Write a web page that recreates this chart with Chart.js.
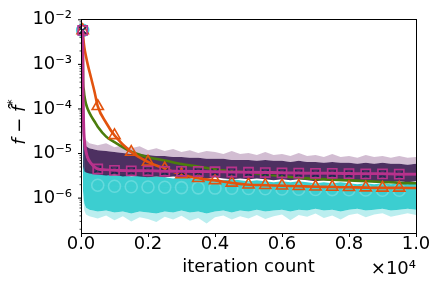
<!DOCTYPE html>
<html>
<head>
<meta charset="utf-8">
<script src="https://cdn.jsdelivr.net/npm/chart.js@4.4.1/dist/chart.umd.min.js"></script>
<style>
  html, body { margin: 0; padding: 0; background: #fff; }
</style>
</head>
<body>
<canvas id="myChart" width="436" height="284"></canvas>
<script>
// iterations where the mean curves were logged
const lineIter = [50, 60, 80, 100, 150, 200, 300, 400, 500, 750, 1000, 1500, 2000, 2500, 3000, 3500, 4000, 4500, 5000, 5500, 6000, 6500, 7000, 7500, 8000, 8500, 9000, 9500, 10000];

const orangeVals = [5.8e-3, 4.5e-3, 3.2e-3, 2.4e-3, 1.5e-3, 1.0e-3, 5.0e-4, 2.5e-4, 1.15e-4, 4.9e-5, 2.55e-5, 1.08e-5, 6.5e-6, 4.6e-6, 3.4e-6, 2.8e-6, 2.5e-6, 2.2e-6, 2.0e-6, 1.95e-6, 1.9e-6, 1.85e-6, 1.8e-6, 1.78e-6, 1.75e-6, 1.72e-6, 1.7e-6, 1.7e-6, 1.68e-6];
const greenVals = [5.8e-3, 4.3e-4, 2.8e-4, 2.0e-4, 1.3e-4, 1.0e-4, 7.0e-5, 5.3e-5, 4.0e-5, 2.4e-5, 1.8e-5, 1.1e-5, 8.3e-6, 7.0e-6, 5.8e-6, 5.1e-6, 4.4e-6, 4.0e-6, 3.7e-6, 3.4e-6, 3.1e-6, 2.85e-6, 2.7e-6, 2.6e-6, 2.5e-6, 2.4e-6, 2.3e-6, 2.2e-6, 2.15e-6];
const magentaVals = [5.8e-3, 3.0e-4, 4.0e-5, 2.0e-5, 1.1e-5, 8.0e-6, 6.0e-6, 5.0e-6, 4.5e-6, 4.3e-6, 4.2e-6, 4.1e-6, 4.1e-6, 4.0e-6, 4.0e-6, 3.95e-6, 3.9e-6, 3.85e-6, 3.8e-6, 3.75e-6, 3.7e-6, 3.65e-6, 3.6e-6, 3.6e-6, 3.55e-6, 3.5e-6, 3.5e-6, 3.45e-6, 3.45e-6];
const navyVals = [5.8e-3, 2.5e-4, 3.5e-5, 1.8e-5, 1.0e-5, 7.5e-6, 5.7e-6, 4.8e-6, 4.35e-6, 4.15e-6, 4.05e-6, 3.95e-6, 3.95e-6, 3.85e-6, 3.85e-6, 3.8e-6, 3.75e-6, 3.7e-6, 3.65e-6, 3.6e-6, 3.55e-6, 3.5e-6, 3.45e-6, 3.45e-6, 3.4e-6, 3.35e-6, 3.35e-6, 3.3e-6, 3.3e-6];
const cyanVals = [5.8e-3, 1.0e-4, 8.0e-6, 4.5e-6, 3.0e-6, 2.5e-6, 2.2e-6, 2.05e-6, 1.95e-6, 1.9e-6, 1.85e-6, 1.8e-6, 1.78e-6, 1.75e-6, 1.72e-6, 1.7e-6, 1.68e-6, 1.66e-6, 1.64e-6, 1.62e-6, 1.6e-6, 1.58e-6, 1.56e-6, 1.55e-6, 1.54e-6, 1.52e-6, 1.5e-6, 1.5e-6, 1.48e-6];

// envelopes of the individual runs
const bandIter = [50, 60, 100, 150, 250, 500, 750, 1000, 1250, 1500, 1750, 2000, 2250, 2500, 2750, 3000, 3250, 3500, 3750, 4000, 4250, 4500, 4750, 5000, 5250, 5500, 5750, 6000, 6250, 6500, 6750, 7000, 7250, 7500, 7750, 8000, 8250, 8500, 8750, 9000, 9250, 9500, 9750, 10000];
const purpleOuterTop = [5.8e-3, 5.4e-5, 2.4e-5, 2.0e-5, 1.7e-5, 1.54e-5, 1.7e-5, 1.39e-5, 1.54e-5, 1.32e-5, 1.46e-5, 1.19e-5, 1.32e-5, 1.14e-5, 1.26e-5, 1.08e-5, 1.19e-5, 1.03e-5, 1.14e-5, 1.08e-5, 9.8e-6, 1.14e-5, 9.8e-6, 1.03e-5, 9.3e-6, 1.08e-5, 9.3e-6, 9.8e-6, 8.8e-6, 1.03e-5, 8.8e-6, 9.3e-6, 8.4e-6, 9.8e-6, 8.4e-6, 8.8e-6, 8.0e-6, 9.3e-6, 8.4e-6, 8.8e-6, 8.0e-6, 8.8e-6, 8.0e-6, 8.4e-6];
const purpleTop = [5.8e-3, 3.27e-5, 1.79e-5, 1.46e-5, 1.32e-5, 1.19e-5, 1.14e-5, 1.08e-5, 1.03e-5, 9.8e-6, 9.8e-6, 9.3e-6, 8.8e-6, 8.8e-6, 8.4e-6, 8.4e-6, 8.0e-6, 8.0e-6, 7.6e-6, 7.6e-6, 7.6e-6, 7.2e-6, 7.2e-6, 7.2e-6, 6.9e-6, 7.2e-6, 6.9e-6, 6.9e-6, 6.5e-6, 6.9e-6, 6.5e-6, 6.5e-6, 6.2e-6, 6.5e-6, 6.2e-6, 6.2e-6, 5.9e-6, 6.2e-6, 5.9e-6, 6.2e-6, 5.9e-6, 5.9e-6, 5.6e-6, 5.9e-6];
const purpleLow = [5.8e-3, 5.1e-6, 3.95e-6, 3.76e-6, 3.57e-6, 3.4e-6, 3.23e-6, 3.4e-6, 3.07e-6, 3.23e-6, 3.07e-6, 2.92e-6, 3.07e-6, 2.92e-6, 3.07e-6, 2.92e-6, 2.77e-6, 2.92e-6, 2.77e-6, 2.92e-6, 2.77e-6, 2.64e-6, 2.77e-6, 2.64e-6, 2.77e-6, 2.64e-6, 2.51e-6, 2.64e-6, 2.51e-6, 2.64e-6, 2.51e-6, 2.39e-6, 2.51e-6, 2.39e-6, 2.51e-6, 2.39e-6, 2.51e-6, 2.39e-6, 2.28e-6, 2.39e-6, 2.28e-6, 2.39e-6, 2.28e-6, 2.39e-6];
const cyanTop = [5.8e-3, 1.08e-5, 5.3e-6, 4.4e-6, 3.95e-6, 3.57e-6, 3.4e-6, 3.23e-6, 3.4e-6, 3.07e-6, 3.23e-6, 2.92e-6, 3.07e-6, 2.92e-6, 2.77e-6, 2.92e-6, 2.77e-6, 2.64e-6, 2.77e-6, 2.64e-6, 2.51e-6, 2.64e-6, 2.51e-6, 2.39e-6, 2.51e-6, 2.39e-6, 2.27e-6, 2.39e-6, 2.27e-6, 2.39e-6, 2.27e-6, 2.16e-6, 2.27e-6, 2.16e-6, 2.27e-6, 2.16e-6, 2.05e-6, 2.16e-6, 2.05e-6, 2.16e-6, 2.05e-6, 2.16e-6, 2.05e-6, 2.16e-6];
const cyanLow = [5.8e-3, 1.44e-6, 7.5e-7, 6.1e-7, 5.5e-7, 5.0e-7, 5.27e-7, 4.77e-7, 5.0e-7, 4.5e-7, 5.0e-7, 4.77e-7, 4.5e-7, 5.0e-7, 4.77e-7, 5.27e-7, 4.77e-7, 5.0e-7, 4.5e-7, 5.0e-7, 5.27e-7, 4.77e-7, 5.27e-7, 5.0e-7, 5.5e-7, 5.0e-7, 5.27e-7, 5.5e-7, 5.0e-7, 5.5e-7, 5.27e-7, 5.8e-7, 5.27e-7, 5.5e-7, 5.0e-7, 5.5e-7, 5.8e-7, 5.27e-7, 5.5e-7, 5.8e-7, 5.27e-7, 5.5e-7, 5.8e-7, 5.5e-7];
const cyanOuterLow = [5.8e-3, 1.0e-6, 5.3e-7, 4.3e-7, 3.9e-7, 3.5e-7, 4.1e-7, 3.2e-7, 3.9e-7, 3.0e-7, 3.7e-7, 3.4e-7, 2.9e-7, 3.8e-7, 3.3e-7, 4.0e-7, 3.1e-7, 3.6e-7, 2.7e-7, 3.7e-7, 4.1e-7, 3.3e-7, 3.9e-7, 3.5e-7, 4.2e-7, 3.4e-7, 3.9e-7, 4.3e-7, 3.2e-7, 4.2e-7, 3.8e-7, 4.5e-7, 3.6e-7, 4.1e-7, 3.3e-7, 4.2e-7, 4.5e-7, 3.7e-7, 4.3e-7, 4.6e-7, 3.8e-7, 4.2e-7, 4.6e-7, 4.2e-7];

// axes
const xTickVals = [0, 2000, 4000, 6000, 8000, 10000];
const xTickLabels = ['0.0', '0.2', '0.4', '0.6', '0.8', '1.0'];
const yDecades = [-7, -6, -5, -4, -3, -2];
const yMantissas = [1, 2, 3, 4, 5, 6, 7, 8, 9];
const yMin = 1.65e-7;
const yMax = 1e-2;

const yTickVals = [];
yDecades.forEach(e => yMantissas.forEach(m => {
  const v = m * Math.pow(10, e);
  if (v >= yMin && v <= yMax * 1.0001) yTickVals.push(v);
}));

const SUP = { '-': '\u207B', '0': '\u2070', '1': '\u00B9', '2': '\u00B2', '3': '\u00B3', '4': '\u2074', '5': '\u2075', '6': '\u2076', '7': '\u2077', '8': '\u2078', '9': '\u2079' };
function isDecade(v) {
  const e = Math.round(Math.log10(v));
  return Math.abs(v - Math.pow(10, e)) / v < 1e-6;
}
function decadeLabel(v) {
  if (!isDecade(v)) return '';
  const e = String(Math.round(Math.log10(v)));
  return '10' + e.split('').map(c => SUP[c]).join('');
}

const pts = (xs, ys) => xs.map((x, i) => ({ x: x, y: ys[i] }));
const markerAt = it => it === lineIter[0] || (it % 500 === 0 && it < 10000);

function meanLine(vals, color, style, radius, width) {
  return {
    data: pts(lineIter, vals),
    borderColor: color,
    borderWidth: width,
    cubicInterpolationMode: 'monotone',
    pointStyle: style,
    pointRadius: ctx => markerAt(ctx.raw.x) ? radius : 0,
    pointBorderColor: color,
    pointBackgroundColor: 'rgba(0,0,0,0)',
    pointBorderWidth: 1.6,
    fill: false,
    clip: false
  };
}
function edge(vals, fillTarget, color) {
  return {
    data: pts(bandIter, vals),
    borderColor: 'rgba(0,0,0,0)',
    borderWidth: 0,
    pointRadius: 0,
    tension: 0,
    fill: fillTarget === null ? false : { target: fillTarget },
    backgroundColor: color || 'rgba(0,0,0,0)'
  };
}

// first dataset ends up on top
const datasets = [
  meanLine(magentaVals, '#b8328c', 'rect', 6.5, 3),
  meanLine(navyVals, '#1c2a50', 'crossRot', 5, 2),
  meanLine(orangeVals, '#e2530e', 'triangle', 6.5, 2.6),
  meanLine(greenVals, '#4b7d0c', 'circle', 0, 2.6),
  Object.assign(meanLine(cyanVals, 'rgba(70,210,215,0.3)', 'circle', 6, 1.2), {
    pointBorderColor: ctx => ctx.dataIndex === 0 ? '#3fd3e0' : 'rgba(150,232,234,0.45)'
  }),
  edge(purpleOuterTop, 6, 'rgba(115,50,115,0.32)'),
  edge(purpleTop, 7, 'rgba(62,30,84,0.92)'),
  edge(purpleLow, null),
  edge(cyanTop, 9, 'rgb(60,206,208)'),
  edge(cyanLow, 10, 'rgba(60,206,208,0.35)'),
  edge(cyanOuterLow, null)
];

const frame = {
  id: 'frame',
  afterDatasetsDraw(chart) {
    const { ctx, chartArea: a, scales } = chart;
    const L = Math.floor(a.left) + 0.5, R = Math.floor(a.right) + 0.5;
    const T = Math.floor(a.top) + 0.5, B = Math.floor(a.bottom) + 0.5;
    ctx.save();
    ctx.strokeStyle = '#000';
    ctx.lineWidth = 1;
    ctx.strokeRect(L, T, R - L, B - T);
    // tick marks, outward like matplotlib
    scales.y.ticks.forEach(t => {
      const y = scales.y.getPixelForValue(t.value);
      const major = isDecade(t.value);
      ctx.lineWidth = major ? 1 : 0.7;
      ctx.beginPath();
      ctx.moveTo(L - (major ? 3.5 : 2), y);
      ctx.lineTo(L, y);
      ctx.stroke();
    });
    ctx.lineWidth = 1;
    xTickVals.forEach(v => {
      const x = Math.round(scales.x.getPixelForValue(v)) + 0.5;
      ctx.beginPath();
      ctx.moveTo(x, B);
      ctx.lineTo(x, B + 3.5);
      ctx.stroke();
    });
    ctx.restore();
  },
  afterDraw(chart) {
    const { ctx, chartArea: a } = chart;
    ctx.save();
    ctx.fillStyle = '#000';
    ctx.font = '18px "DejaVu Sans"';
    ctx.textBaseline = 'alphabetic';
    ctx.textAlign = 'center';
    ctx.fillText('iteration count', (a.left + a.right) / 2, 272);
    ctx.textAlign = 'right';
    ctx.fillText('\u00D710\u2074', a.right, 274);

    // y label: f − f̂*
    const parts = [
      { t: 'f', f: 'italic 18px "DejaVu Sans"', dy: 0 },
      { t: ' \u2212 ', f: '18px "DejaVu Sans"', dy: 0 },
      { t: 'f\u0302', f: 'italic 18px "DejaVu Sans"', dy: 0 },
      { t: '*', f: '13px "DejaVu Sans"', dy: -7 }
    ];
    ctx.translate(20, 122);
    ctx.rotate(-Math.PI / 2);
    ctx.textAlign = 'left';
    ctx.textBaseline = 'middle';
    let total = 0;
    parts.forEach(p => { ctx.font = p.f; p.w = ctx.measureText(p.t).width; total += p.w; });
    let x = -total / 2;
    parts.forEach(p => { ctx.font = p.f; ctx.fillText(p.t, x, p.dy); x += p.w; });
    ctx.restore();
  }
};

Chart.defaults.font.family = '"DejaVu Sans", sans-serif';
Chart.defaults.font.size = 18;
Chart.defaults.color = '#000';

new Chart('myChart', {
  type: 'line',
  data: { datasets: datasets },
  options: {
    responsive: false,
    animation: false,
    devicePixelRatio: 1,
    layout: { padding: { top: 14, right: 20, left: 0, bottom: 0 } },
    plugins: { legend: { display: false }, tooltip: { enabled: false } },
    scales: {
      x: {
        type: 'linear',
        min: 0,
        max: 10000,
        grid: { display: false, drawTicks: false },
        border: { display: false },
        afterFit: s => { s.height = 51; },
        afterBuildTicks: s => { s.ticks = xTickVals.map(v => ({ value: v })); },
        ticks: {
          autoSkip: false,
          maxRotation: 0,
          padding: 1,
          callback: v => xTickLabels[xTickVals.indexOf(v)]
        }
      },
      y: {
        type: 'logarithmic',
        min: yMin,
        max: yMax,
        grid: { display: false, drawTicks: false },
        border: { display: false },
        afterFit: s => { s.width = 81; },
        afterBuildTicks: s => { s.ticks = yTickVals.map(v => ({ value: v })); },
        ticks: {
          autoSkip: false,
          padding: 9,
          callback: v => decadeLabel(v)
        }
      }
    }
  },
  plugins: [frame]
});
</script>
</body>
</html>
